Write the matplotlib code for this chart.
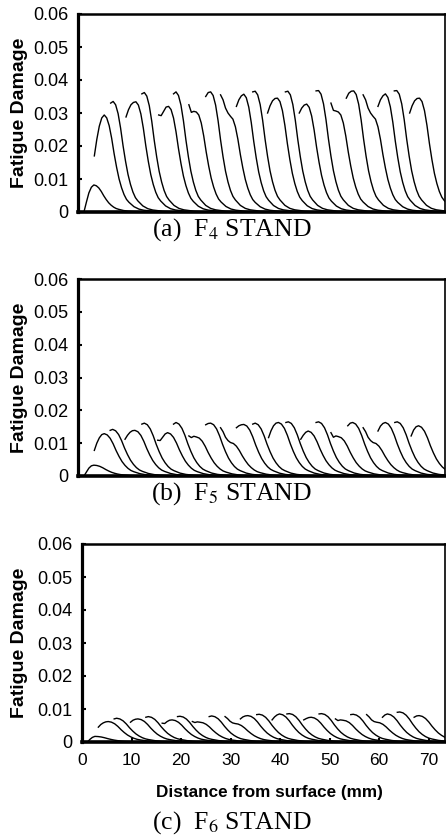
import numpy as np
import matplotlib
matplotlib.use("Agg")
import matplotlib.pyplot as plt

plt.rcParams['font.family'] = ['Liberation Sans', 'DejaVu Sans']
plt.rcParams['mathtext.fontset'] = 'stix'

# common fall-off after each peak, as a fraction of the peak
fall_dx = [0, 0.5, 1.0, 1.5, 2.0, 2.5, 3.0, 3.5, 4.0, 4.5, 5.0, 6.0, 7.0, 8.0, 10.0, 12.0, 15.0]
fall_frac = [1.0, 0.97, 0.89, 0.76, 0.60, 0.46, 0.34, 0.25, 0.18, 0.13, 0.10, 0.055, 0.03, 0.018, 0.007, 0.003, 0.0]
head_step = 0.5  # mm between the head points of a curve

# F4 stand: start of each curve (mm) and values up to the peak
f4_start = [1.2, 3.3, 6.6, 9.7, 12.9, 16.3, 19.3, 22.4, 25.8, 28.8, 32.0,
            35.3, 38.3, 41.9, 44.7, 48.1, 51.1, 54.2, 57.6, 60.6, 63.9, 67.0]
f4_head = [
    [0.0, 0.0030, 0.0058, 0.0075, 0.0082],
    [0.0170, 0.0220, 0.0260, 0.0285, 0.0294],
    [0.0330, 0.0335],
    [0.0288, 0.0310, 0.0325, 0.0332, 0.0334],
    [0.0358, 0.0362],
    [0.0294, 0.0292, 0.0305, 0.0318, 0.0320],
    [0.0358, 0.0364],
    [0.0325, 0.0302, 0.0305, 0.0303],
    [0.0350, 0.0362, 0.0364],
    [0.0355, 0.0340, 0.0315, 0.0300, 0.0290],
    [0.0320, 0.0340, 0.0352, 0.0357],
    [0.0364, 0.0366],
    [0.0300, 0.0322, 0.0337, 0.0344, 0.0345],
    [0.0364, 0.0366],
    [0.0300, 0.0315, 0.0324, 0.0327],
    [0.0367, 0.0368],
    [0.0330, 0.0308, 0.0306, 0.0303],
    [0.0345, 0.0360, 0.0366, 0.0367],
    [0.0355, 0.0340, 0.0315, 0.0300, 0.0290],
    [0.0320, 0.0340, 0.0352, 0.0358],
    [0.0367, 0.0368],
    [0.0300, 0.0322, 0.0337, 0.0344, 0.0345],
]

# F5 stand
f5_start = [1.2, 3.3, 6.5, 9.5, 12.9, 16.1, 19.3, 22.4, 25.8, 28.8, 32.0,
            35.3, 38.5, 42.0, 45.0, 48.1, 51.1, 54.5, 57.6, 60.6, 64.0, 67.3]
f5_head = [
    [0.0, 0.0012, 0.0024, 0.0031, 0.0033],
    [0.0078, 0.0100, 0.0116, 0.0126, 0.0129],
    [0.0139, 0.0142],
    [0.0112, 0.0124, 0.0133, 0.0138, 0.0139],
    [0.0158, 0.0161],
    [0.0109, 0.0108, 0.0118, 0.0128, 0.0132],
    [0.0158, 0.0163],
    [0.0122, 0.0117, 0.0121, 0.0119],
    [0.0156, 0.0160, 0.0161],
    [0.0147, 0.0135, 0.0118, 0.0108, 0.0102],
    [0.0147, 0.0153, 0.0156, 0.0157],
    [0.0158, 0.0161],
    [0.0117, 0.0138, 0.0153, 0.0161, 0.0163],
    [0.0163, 0.0165],
    [0.0112, 0.0124, 0.0133, 0.0137],
    [0.0163, 0.0165],
    [0.0132, 0.0118, 0.0122, 0.0120],
    [0.0153, 0.0161, 0.0163],
    [0.0147, 0.0135, 0.0118, 0.0108, 0.0102],
    [0.0137, 0.0152, 0.0160, 0.0163],
    [0.0163, 0.0165],
    [0.0122, 0.0140, 0.0150, 0.0153],
]

# F6 stand
f6_start = [1.1, 3.3, 6.5, 9.8, 12.9, 16.2, 19.3, 22.3, 25.7, 28.9, 32.0,
            35.3, 38.4, 41.4, 44.8, 47.9, 51.2, 54.3, 57.5, 60.7, 63.7, 67.1]
f6_head = [
    [0.0, 0.0008, 0.0014, 0.0017],
    [0.0045, 0.0053, 0.0058, 0.0061, 0.0062],
    [0.0070, 0.0072],
    [0.0060, 0.0066, 0.0069, 0.0070],
    [0.0075, 0.0077],
    [0.0057, 0.0056, 0.0062, 0.0066, 0.0067],
    [0.0077, 0.0078],
    [0.0062, 0.0059, 0.0061, 0.0060],
    [0.0077, 0.0079],
    [0.0077, 0.0071, 0.0063, 0.0058, 0.0056],
    [0.0070, 0.0076, 0.0079, 0.0080],
    [0.0083, 0.0084],
    [0.0067, 0.0076, 0.0082, 0.0085],
    [0.0085, 0.0086],
    [0.0067, 0.0071, 0.0074, 0.0075],
    [0.0085, 0.0086],
    [0.0070, 0.0065, 0.0067, 0.0066],
    [0.0083, 0.0084],
    [0.0083, 0.0076, 0.0067, 0.0062, 0.0060],
    [0.0075, 0.0082, 0.0085],
    [0.0090, 0.0091],
    [0.0075, 0.0079, 0.0080],
]

y_ticks = [0, 0.01, 0.02, 0.03, 0.04, 0.05, 0.06]
y_ticklabels = ['0', '0.01', '0.02', '0.03', '0.04', '0.05', '0.06']
x_ticks = [0, 10, 20, 30, 40, 50, 60, 70]
captions = ['(a)  F$_4$ STAND', '(b)  F$_5$ STAND', '(c)  F$_6$ STAND']

W, H = 446.0, 839.0
fig = plt.figure(figsize=(W / 100, H / 100), dpi=100)

# pixel boxes of the three panels: left, top, bottom, and caption centre
boxes = [(78, 14, 212, 230), (78, 279, 476, 494), (82, 544, 742, 823)]
right_px = 445
px_per_mm = 4.95
stretch = [1.0, 1.2, 1.3]

panels = [(f4_start, f4_head), (f5_start, f5_head), (f6_start, f6_head)]
for k, ((starts, heads), (lpx, tpx, bpx, cpy)) in enumerate(zip(panels, boxes)):
    ax = fig.add_axes([lpx / W, (H - bpx) / H, (right_px - lpx) / W, (bpx - tpx) / H])
    for x0, head in zip(starts, heads):
        hx = x0 + head_step * np.arange(len(head))
        fx = hx[-1] + stretch[k] * np.array(fall_dx[1:])
        fy = head[-1] * np.array(fall_frac[1:])
        xs = np.concatenate([hx, fx])
        ys = np.concatenate([head, fy])
        ax.plot(xs, ys, color='black', lw=1.0, solid_joinstyle='round')

    ax.set_xlim(0, (right_px - lpx) / px_per_mm)
    ax.set_ylim(0, 0.06)
    ax.set_yticks(y_ticks)
    ax.set_yticklabels(y_ticklabels)
    ax.tick_params(axis='y', direction='in', length=3, width=1.5, labelsize=13, pad=7)
    if k < 2:
        ax.tick_params(axis='x', length=0, labelbottom=False)
    else:
        ax.set_xticks(x_ticks)
        ax.tick_params(axis='x', direction='in', length=3, width=1.5, labelsize=12.5, pad=8)
    ax.spines['left'].set_linewidth(2.3)
    ax.spines['bottom'].set_linewidth(2.6)
    ax.spines['top'].set_linewidth(1.8)
    ax.spines['right'].set_linewidth(1.2)

    fig.text(20 / W, (H - (tpx + bpx) / 2) / H, 'Fatigue Damage', rotation=90,
             ha='center', va='center', fontsize=14, fontweight='bold')
    fig.text(232 / W, (H - cpy) / H, captions[k], ha='center', va='center',
             fontsize=18.5, family='Liberation Serif')

fig.text(269 / W, (H - 792) / H, 'Distance from surface (mm)', ha='center', va='center',
         fontsize=12.3, fontweight='bold')

fig.savefig('out.png', dpi=100)
